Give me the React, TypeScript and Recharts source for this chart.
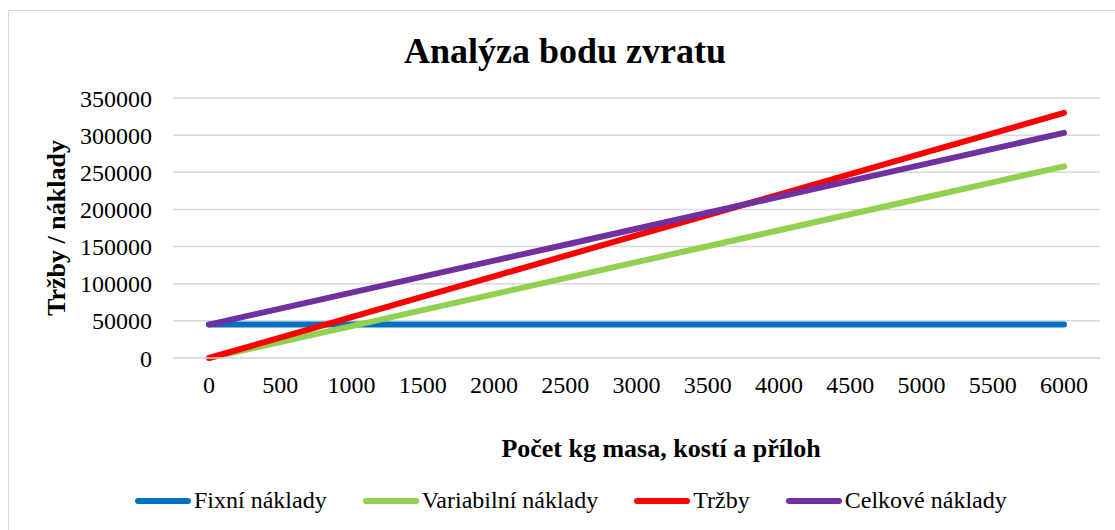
import { CartesianGrid, Line, LineChart, XAxis, YAxis } from 'recharts'

const kg = ['0', '500', '1000', '1500', '2000', '2500', '3000', '3500', '4000', '4500', '5000', '5500', '6000']
const fixni = [45000, 45000, 45000, 45000, 45000, 45000, 45000, 45000, 45000, 45000, 45000, 45000, 45000]
const variabilni = [0, 21500, 43000, 64500, 86000, 107500, 129000, 150500, 172000, 193500, 215000, 236500, 258000]
const trzby = [0, 27500, 55000, 82500, 110000, 137500, 165000, 192500, 220000, 247500, 275000, 302500, 330000]
const celkove = [45000, 66500, 88000, 109500, 131000, 152500, 174000, 195500, 217000, 238500, 260000, 281500, 303000]
const yTicks = [0, 50000, 100000, 150000, 200000, 250000, 300000, 350000]

const series = [
  { key: 'fixni', name: 'Fixní náklady', color: '#0070C0' },
  { key: 'variabilni', name: 'Variabilní náklady', color: '#92D050' },
  { key: 'trzby', name: 'Tržby', color: '#FF0000' },
  { key: 'celkove', name: 'Celkové náklady', color: '#7030A0' },
]

const font = "'Liberation Serif', 'Times New Roman', serif"

const data = kg.map((k, i) => ({
  kg: k,
  fixni: fixni[i],
  variabilni: variabilni[i],
  trzby: trzby[i],
  celkove: celkove[i],
}))

function ChartLegend() {
  return (
    <div style={{ display: 'flex', alignItems: 'center', fontFamily: font, fontSize: 24, color: '#000' }}>
      {series.map((s, i) => (
        <div key={s.key} style={{ display: 'flex', alignItems: 'center', marginRight: i < series.length - 1 ? 36 : 0 }}>
          <span style={{ display: 'inline-block', width: 56, height: 6, borderRadius: 3, background: s.color, marginRight: 3 }} />
          <span>{s.name}</span>
        </div>
      ))}
    </div>
  )
}

export default function App() {
  return (
    <div style={{ position: 'absolute', left: 0, top: 0, width: 1115, height: 530, background: '#fff', overflow: 'hidden' }}>
      <div style={{ position: 'absolute', left: 8, top: 10, width: 1130, height: 540, border: '1px solid #d9d9d9' }} />
      <div style={{ position: 'absolute', left: 0, top: 0 }}>
        <LineChart width={1115} height={530} data={data} margin={{ top: 98, right: 15, left: 0, bottom: 142 }}>
          <CartesianGrid stroke="#d9d9d9" strokeWidth={1.5} vertical={false} />
          <XAxis
            dataKey="kg"
            height={30}
            padding={{ left: 36, right: 36 }}
            axisLine={{ stroke: '#d9d9d9', strokeWidth: 1.5 }}
            tickLine={false}
            tickMargin={12}
            interval={0}
            tick={{ fill: '#000', fontSize: 24, fontFamily: font }}
          />
          <YAxis
            width={173}
            domain={[0, 350000]}
            ticks={yTicks}
            axisLine={false}
            tickLine={false}
            tickMargin={15}
            tick={{ fill: '#000', fontSize: 24, fontFamily: font }}
          />
          {series.map((s) => (
            <Line
              key={s.key}
              type="linear"
              dataKey={s.key}
              name={s.name}
              stroke={s.color}
              strokeWidth={6}
              strokeLinecap="round"
              dot={false}
              activeDot={false}
              isAnimationActive={false}
            />
          ))}
        </LineChart>
      </div>
      <div style={{ position: 'absolute', left: 135, top: 487 }}>
        <ChartLegend />
      </div>
      <div style={{ position: 'absolute', left: 0, width: 1130, top: 30, textAlign: 'center', fontFamily: font, fontWeight: 'bold', fontSize: 36, color: '#000' }}>
        Analýza bodu zvratu
      </div>
      <div style={{ position: 'absolute', left: 0, width: 1322, top: 434, textAlign: 'center', fontFamily: font, fontWeight: 'bold', fontSize: 26, color: '#000' }}>
        Počet kg masa, kostí a příloh
      </div>
      <div
        style={{
          position: 'absolute',
          left: 57,
          top: 228,
          transform: 'translate(-50%, -50%) rotate(-90deg)',
          whiteSpace: 'nowrap',
          fontFamily: font,
          fontWeight: 'bold',
          fontSize: 26,
          color: '#000',
        }}
      >
        Tržby / náklady
      </div>
    </div>
  )
}
